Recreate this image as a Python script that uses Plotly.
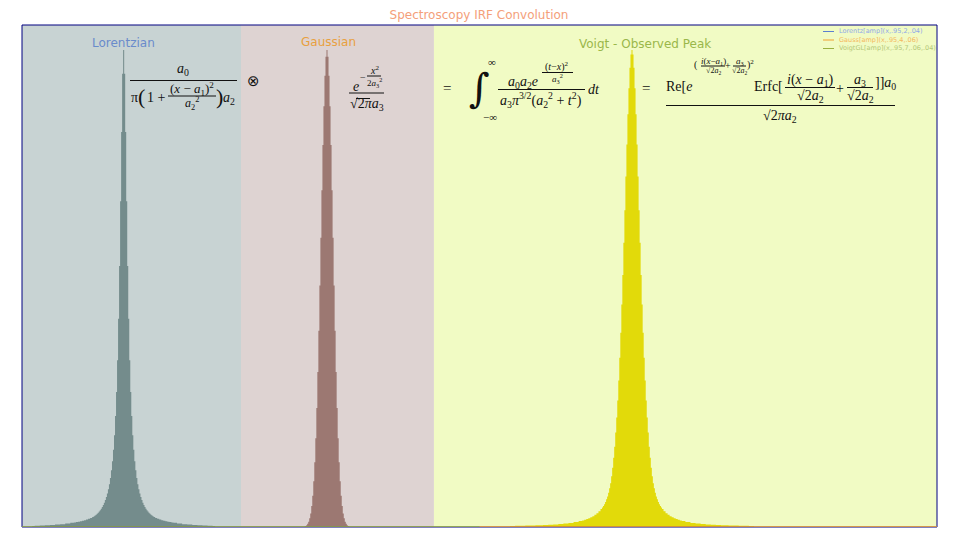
import plotly.graph_objects as go

# ---------------- data ----------------
X_RANGE = [1, 10]
PANEL_EDGES = [1, 3.154, 5.052, 10]
PANEL_NAMES = ["Lorentzian", "Gaussian", "Voigt - Observed Peak"]

LOR_CENTER = 2.0
LOR_OFFSETS = [0.00, 0.01, 0.02, 0.03, 0.04, 0.05, 0.06, 0.07, 0.08, 0.09, 0.10,
               0.11, 0.12, 0.13, 0.14, 0.15, 0.16, 0.17, 0.18, 0.19, 0.20,
               0.21, 0.22, 0.23, 0.24, 0.25, 0.26, 0.27, 0.28, 0.29, 0.30,
               0.32, 0.34, 0.36, 0.38, 0.40, 0.42, 0.44, 0.46, 0.48, 0.50,
               0.55, 0.60, 0.65, 0.70, 0.75, 0.80, 0.85, 0.90]
LOR_HEIGHTS = [0.950, 0.903, 0.787, 0.649, 0.520, 0.415, 0.332, 0.269, 0.221, 0.183, 0.154,
               0.131, 0.113, 0.0976, 0.0854, 0.0753, 0.0668, 0.0596, 0.0536, 0.0484, 0.0439,
               0.0400, 0.0365, 0.0335, 0.0309, 0.0285, 0.0264, 0.0246, 0.0229, 0.0214, 0.0200,
               0.0178, 0.0162, 0.0148, 0.0136, 0.0125, 0.0115, 0.0106, 0.0098, 0.0090, 0.0083,
               0.0069, 0.0057, 0.0048, 0.0040, 0.0034, 0.0029, 0.0024, 0.0019]

GAU_CENTER = 4.0
GAU_OFFSETS = [0.00, 0.01, 0.02, 0.03, 0.04, 0.05, 0.06, 0.07, 0.08, 0.09, 0.10, 0.11,
               0.12, 0.13, 0.14, 0.15, 0.16, 0.17, 0.18, 0.19, 0.20, 0.21, 0.22]
GAU_HEIGHTS = [0.950, 0.937, 0.899, 0.838, 0.761, 0.671, 0.576, 0.481, 0.391, 0.309, 0.237, 0.177,
               0.129, 0.0909, 0.0624, 0.0417, 0.0271, 0.0172, 0.0106, 0.0063, 0.0037, 0.0021, 0.0011]

VOI_CENTER = 7.0
VOI_OFFSETS = [0.00, 0.01, 0.02, 0.03, 0.04, 0.05, 0.06, 0.07, 0.08, 0.09, 0.10,
               0.11, 0.12, 0.13, 0.14, 0.15, 0.16, 0.17, 0.18, 0.19, 0.20,
               0.21, 0.22, 0.23, 0.24, 0.25, 0.26, 0.27, 0.28, 0.29, 0.30,
               0.32, 0.34, 0.36, 0.38, 0.40, 0.42, 0.44, 0.46, 0.48, 0.50,
               0.55, 0.60, 0.65, 0.70, 0.75, 0.80, 0.85, 0.90, 1.00, 1.10, 1.20]
VOI_HEIGHTS = [0.950, 0.941, 0.915, 0.874, 0.822, 0.762, 0.698, 0.631, 0.566, 0.502, 0.443,
               0.387, 0.337, 0.292, 0.252, 0.218, 0.188, 0.160, 0.138, 0.118, 0.101,
               0.087, 0.077, 0.068, 0.061, 0.0551, 0.050, 0.0455, 0.0418, 0.0387, 0.0360,
               0.0315, 0.0276, 0.0243, 0.0216, 0.0192, 0.0175, 0.0158, 0.0144, 0.0131, 0.0120,
               0.0098, 0.0082, 0.0070, 0.0060, 0.0052, 0.0046, 0.0040, 0.0036, 0.0029, 0.0024, 0.0020]

LEGEND_NAMES = ["Lorentz[amp](x,.95,2,.04)", "Gauss[amp](x,.95,4,.06)", "VoigtGL[amp](x,.95,7,.06,.04)"]

# ---------------- styles ----------------
PANEL_BG = ["#C8D3D3", "#DED3D2", "#F1FBC4"]
FILLS = ["#748C8C", "#9C7872", "#E2DA0A"]
LEG_LINE = ["#5B7FD0", "#F0A030", "#9AB040"]
LEG_TEXT = ["#8FA8E8", "#F4B860", "#B4C878"]
TITLE_COL = ["#6A8BCB", "#E8A040", "#9AB74A"]
SANS = "DejaVu Sans, Tahoma, sans-serif"
SERIF = "Liberation Serif, serif"
INK = "#111111"

# page body adds an 8px offset; layout below is given in window pixels
OFF = 8
W, H = 960 - OFF, 540 - OFF
PL, PR, PT, PB = 22 - OFF, 937 - OFF, 25 - OFF, 527 - OFF


def fx(p):
    return (p - OFF - PL) / (PR - PL)


def fy(p):
    return (PB - (p - OFF)) / (PB - PT)


def mirror(center, offs, hts):
    xs = [center - d for d in reversed(offs[1:])] + [center + d for d in offs]
    ys = list(reversed(hts[1:])) + list(hts)
    return xs, ys


fig = go.Figure()
for (c, o, h), col in zip([(LOR_CENTER, LOR_OFFSETS, LOR_HEIGHTS),
                           (GAU_CENTER, GAU_OFFSETS, GAU_HEIGHTS),
                           (VOI_CENTER, VOI_OFFSETS, VOI_HEIGHTS)], FILLS):
    xs, ys = mirror(c, o, h)
    fig.add_trace(go.Scatter(x=xs, y=ys, mode="lines",
                             line=dict(width=0, shape="hvh", color=col),
                             fill="tozeroy", fillcolor=col,
                             hoverinfo="skip", showlegend=False))

shapes = []
annotations = []

# panel backgrounds
for i in range(3):
    shapes.append(dict(type="rect", xref="x", yref="paper", x0=PANEL_EDGES[i], x1=PANEL_EDGES[i + 1],
                       y0=0, y1=1, fillcolor=PANEL_BG[i], line=dict(width=0), layer="below"))

# frame
shapes.append(dict(type="rect", xref="paper", yref="paper", x0=0, x1=1, y0=0, y1=1,
                   line=dict(color="#000080", width=1), layer="above"))
# baseline colours
shapes.append(dict(type="line", xref="x", yref="y", x0=1, x1=5.5, y0=0, y1=0,
                   line=dict(color=LEG_LINE[2], width=1.5), layer="above"))
shapes.append(dict(type="line", xref="x", yref="y", x0=5.5, x1=10, y0=0, y1=0,
                   line=dict(color=LEG_LINE[1], width=1.5), layer="above"))

# panel titles
for name, col, (x, y) in zip(PANEL_NAMES, TITLE_COL, [(123, 43), (328, 42), (645, 44)]):
    annotations.append(dict(text=name, x=fx(x), y=fy(y), xref="paper", yref="paper", showarrow=False,
                            font=dict(family=SANS, size=12, color=col), xanchor="center", yanchor="middle"))

# manual legend
for i, (nm, lc, tc) in enumerate(zip(LEGEND_NAMES, LEG_LINE, LEG_TEXT)):
    yy = 31.5 + i * 8.5
    shapes.append(dict(type="line", xref="paper", yref="paper", x0=fx(823), x1=fx(834), y0=fy(yy), y1=fy(yy),
                       line=dict(color=lc, width=1)))
    annotations.append(dict(text=nm, x=fx(837), y=fy(yy), xref="paper", yref="paper", showarrow=False,
                            font=dict(family=SANS, size=6.5, color=tc), xanchor="left", yanchor="middle"))


def t(s, x, y, size=14, family=SERIF, color=INK):
    annotations.append(dict(text=s, x=fx(x), y=fy(y), xref="paper", yref="paper", showarrow=False,
                            font=dict(family=family, size=size, color=color),
                            xanchor="center", yanchor="middle"))


def bar(x0, x1, y, w=1):
    shapes.append(dict(type="line", xref="paper", yref="paper", x0=fx(x0), x1=fx(x1), y0=fy(y), y1=fy(y),
                       line=dict(color=INK, width=w)))


A = lambda n: "<i>a</i><sub>%s</sub>" % n

# Lorentzian formula
t(A(0), 183, 69)
bar(130, 237, 80.5)
t("π", 134, 98)
t("(", 141, 97, 22)
t("1 +", 156, 98)
t("(<i>x</i> − " + A(1) + ")<sup>2</sup>", 192, 89, 13)
bar(168, 216, 96)
t("<i>a</i><sub>2</sub><sup>2</sup>", 192, 104, 12)
t(")", 219.5, 97, 22)
t(A(2), 229, 99)
t("⊗", 253, 81, 15, family="DejaVu Sans")

# Gaussian formula
t("<i>e</i>", 356, 86)
t("−", 363, 77, 10)
t("<i>x</i><sup>2</sup>", 374, 70, 10)
bar(367, 381, 76)
t("2<i>a</i><sub>3</sub><sup>2</sup>", 374, 82, 9)
bar(349, 384, 93)
t("√2<i>π</i>" + A(3), 367, 105)
bar(356, 370, 98.5)

# Integral formula
t("=", 447, 88, 15)
t("∫", 480, 88, 40, family="DejaVu Serif")
t("∞", 492, 62, 11)
t("−∞", 490, 117, 11)
t(A(0) + A(2) + "<i>e</i>", 523, 82)
t("(<i>t</i>−<i>x</i>)<sup>2</sup>", 557, 66, 10)
bar(542, 573, 72.5)
t("<i>a</i><sub>3</sub><sup>2</sup>", 557, 78, 9)
bar(498, 585, 89.5)
t(A(3) + "<i>π</i><sup>3/2</sup>(<i>a</i><sub>2</sub><sup>2</sup> + <i>t</i><sup>2</sup>)", 541, 100)
t("<i>dt</i>", 594, 89)

# Closed form
t("=", 646, 88, 15)
t("Re[<i>e</i>", 679, 86)
t("(", 696, 65, 10)
t("<i>i</i>(<i>x</i>−" + A(1) + ")", 713, 61, 9)
bar(701, 725, 66)
t("√2" + A(2), 713, 71, 8)
t("+", 728, 65, 10)
t(A(3), 739.5, 61, 9)
bar(733, 746, 66)
t("√2" + A(2), 739.5, 71, 8)
t(")<sup>2</sup>", 750, 64, 10)
t("Erfc[", 768, 86)
t("<i>i</i>(<i>x</i> − " + A(1) + ")", 810, 80)
bar(785, 835, 87.5)
t("√2" + A(2), 810, 97)
t("+", 840, 88)
t(A(3), 860, 80)
bar(847, 873, 87.5)
t("√2" + A(2), 860, 97)
t("]]" + A(0), 885, 83)
bar(666, 895, 105.5)
t("√2<i>π</i>" + A(2), 780, 117)

fig.update_layout(
    width=W, height=H,
    margin=dict(l=PL, r=W - PR, t=PT, b=H - PB),
    paper_bgcolor="white", plot_bgcolor="white",
    title=dict(text="Spectroscopy IRF Convolution", x=fx(479), xref="paper", y=1 - (15 - OFF) / H,
               yanchor="middle", xanchor="center", font=dict(family=SANS, size=12, color="#F4A07A")),
    xaxis=dict(range=X_RANGE, showgrid=False, zeroline=False, showticklabels=False, ticks="",
               showline=False, fixedrange=True),
    yaxis=dict(range=[0, 1], showgrid=False, zeroline=False, showticklabels=False, ticks="",
               showline=False, fixedrange=True),
    shapes=shapes, annotations=annotations, showlegend=False,
)
fig.write_html("out.html")
